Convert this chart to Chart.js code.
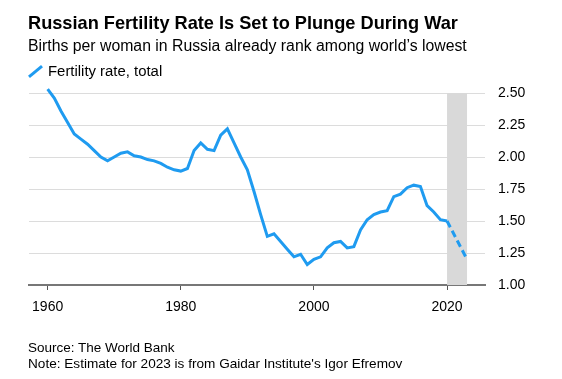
<!DOCTYPE html>
<html>
<head>
<meta charset="utf-8">
<script src="https://cdn.jsdelivr.net/npm/chart.js@4"></script>
<style>
  body { margin: 0; background: #fff; font-family: "Liberation Sans", Arial, sans-serif; color: #000; }
  #wrap { position: relative; width: 562px; height: 379px; overflow: hidden; }
  #chart { position: absolute; left: 0; top: 0; }
  .txt { position: absolute; left: 28px; white-space: nowrap; }
  #title { top: 11px; font-size: 18.2px; font-weight: bold; line-height: 24px; }
  #sub { top: 37px; font-size: 15.8px; line-height: 18px; }
  #legend { top: 62px; font-size: 14.9px; line-height: 18px; left: 48px; }
  #swatch { position: absolute; left: 27px; top: 70px; width: 17px; height: 3px; background: #1f9bf0; transform: rotate(-40deg); }
  #source { top: 340px; font-size: 13.5px; line-height: 16px; }
  #note { top: 356px; font-size: 13.6px; line-height: 16px; }
</style>
</head>
<body>
<div id="wrap">
  <canvas id="chart" width="562" height="379"></canvas>
  <div class="txt" id="title">Russian Fertility Rate Is Set to Plunge During War</div>
  <div class="txt" id="sub">Births per woman in Russia already rank among world’s lowest</div>
  <div id="swatch"></div>
  <div class="txt" id="legend">Fertility rate, total</div>
  <div class="txt" id="source">Source: The World Bank</div>
  <div class="txt" id="note">Note: Estimate for 2023 is from Gaidar Institute's Igor Efremov</div>
</div>
<script>
// Fertility rate (births per woman), World Bank
const years = [1960, 1961, 1962, 1963, 1964, 1965, 1966, 1967, 1968, 1969,
               1970, 1971, 1972, 1973, 1974, 1975, 1976, 1977, 1978, 1979,
               1980, 1981, 1982, 1983, 1984, 1985, 1986, 1987, 1988, 1989,
               1990, 1991, 1992, 1993, 1994, 1995, 1996, 1997, 1998, 1999,
               2000, 2001, 2002, 2003, 2004, 2005, 2006, 2007, 2008, 2009,
               2010, 2011, 2012, 2013, 2014, 2015, 2016, 2017, 2018, 2019, 2020];
const fertility = [2.53, 2.46, 2.36, 2.27, 2.18, 2.14, 2.10, 2.05, 2.00, 1.97,
                   2.00, 2.03, 2.04, 2.01, 2.00, 1.98, 1.97, 1.95, 1.92, 1.90,
                   1.89, 1.91, 2.05, 2.11, 2.06, 2.05, 2.17, 2.22, 2.11, 2.00,
                   1.90, 1.73, 1.55, 1.38, 1.40, 1.34, 1.28, 1.22, 1.24, 1.16,
                   1.20, 1.22, 1.29, 1.33, 1.34, 1.29, 1.30, 1.43, 1.51, 1.55,
                   1.57, 1.58, 1.69, 1.71, 1.76, 1.78, 1.77, 1.62, 1.57, 1.51, 1.50];
// estimate (dashed)
const estYears = [2020, 2023];
const estValues = [1.50, 1.20];
// shaded period
const bandYears = [2020, 2023];

const xTicks = [1960, 1980, 2000, 2020];
const yTicks = [1.00, 1.25, 1.50, 1.75, 2.00, 2.25, 2.50];

const blue = '#1f9bf0';

const bandPlugin = {
  id: 'band',
  beforeDatasetsDraw(chart) {
    const { ctx, chartArea, scales } = chart;
    const x0 = scales.x.getPixelForValue(bandYears[0]);
    const x1 = scales.x.getPixelForValue(bandYears[1]);
    ctx.save();
    ctx.fillStyle = '#d9d9d9';
    ctx.fillRect(x0, chartArea.top, x1 - x0, chartArea.bottom - chartArea.top);
    ctx.restore();
  }
};

new Chart(document.getElementById('chart'), {
  type: 'line',
  data: {
    datasets: [
      {
        label: 'Fertility rate, total',
        data: years.map((y, i) => ({ x: y, y: fertility[i] })),
        borderColor: blue,
        borderWidth: 3,
        pointRadius: 0,
        tension: 0,
        clip: false
      },
      {
        label: 'Estimate',
        data: estYears.map((y, i) => ({ x: y, y: estValues[i] })),
        borderColor: blue,
        borderWidth: 3,
        borderDash: [7, 4],
        pointRadius: 0,
        clip: false
      }
    ]
  },
  options: {
    responsive: false,
    animation: false,
    layout: { padding: { left: 29, top: 93, right: 0, bottom: 0 } },
    plugins: { legend: { display: false }, tooltip: { enabled: false } },
    scales: {
      x: {
        type: 'linear',
        min: 1957.2,
        max: 2025.7,
        afterBuildTicks: s => { s.ticks = xTicks.map(v => ({ value: v })); },
        afterFit: s => { s.height = 379 - 93 - 192; },
        grid: { drawOnChartArea: false, drawTicks: true, tickLength: 5, color: '#555', lineWidth: 1 },
        border: { color: '#777', width: 2 },
        ticks: { color: '#000', font: { family: 'Liberation Sans', size: 14 }, padding: 9, maxRotation: 0, callback: v => String(v) }
      },
      y: {
        position: 'right',
        min: 1.0,
        max: 2.5,
        afterBuildTicks: s => { s.ticks = yTicks.map(v => ({ value: v })); },
        afterFit: s => { s.width = 562 - 485; },
        grid: { drawTicks: false, color: '#dcdcdc', lineWidth: 1 },
        border: { display: false },
        ticks: { color: '#000', font: { family: 'Liberation Sans', size: 14 }, padding: 13, callback: v => v.toFixed(2) }
      }
    }
  },
  plugins: [bandPlugin]
});
</script>
</body>
</html>
